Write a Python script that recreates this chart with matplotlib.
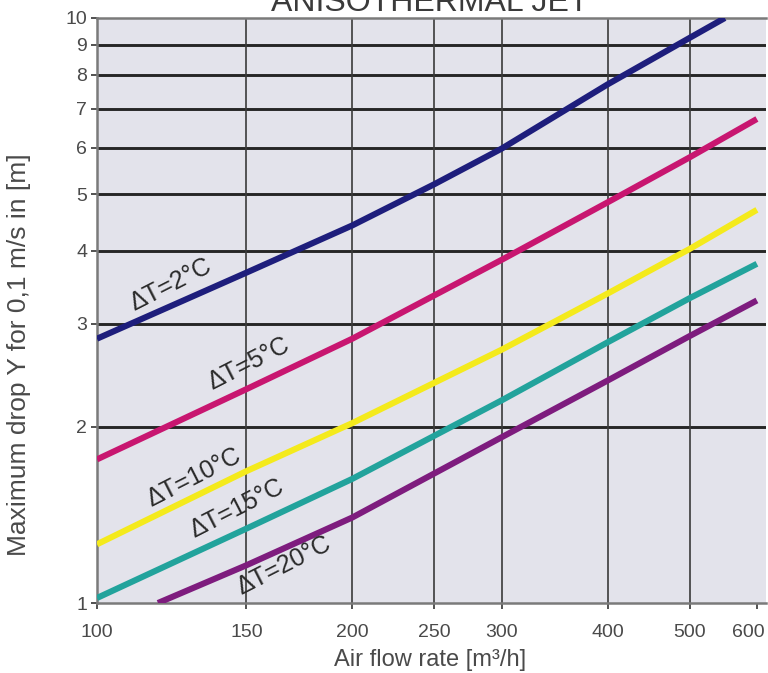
import matplotlib
matplotlib.use("Agg")
import matplotlib.pyplot as plt
from matplotlib.ticker import FixedLocator, FixedFormatter, NullLocator
from matplotlib.transforms import ScaledTranslation

plt.rcParams['font.family'] = ['Liberation Sans', 'DejaVu Sans']

# ---- data ----
title = "ANISOTHERMAL JET"
x_label = "Air flow rate [m³/h]"
y_label = "Maximum drop Y for 0,1 m/s in [m]"

x_ticks = [100, 150, 200, 250, 300, 400, 500, 600]
y_ticks = [1, 2, 3, 4, 5, 6, 7, 8, 9, 10]

dt2_x = [100, 150, 200, 250, 300, 400, 500, 550]
dt2_y = [2.83, 3.67, 4.42, 5.20, 5.98, 7.70, 9.25, 10.0]

dt5_x = [100, 150, 200, 300, 400, 500, 600]
dt5_y = [1.76, 2.32, 2.83, 3.86, 4.84, 5.78, 6.72]

dt10_x = [100, 150, 200, 250, 300, 400, 500, 600]
dt10_y = [1.26, 1.68, 2.03, 2.38, 2.71, 3.38, 4.03, 4.70]

dt15_x = [100, 150, 200, 300, 400, 500, 600]
dt15_y = [1.02, 1.34, 1.63, 2.22, 2.79, 3.32, 3.80]

dt20_x = [118, 150, 200, 300, 400, 500, 600]
dt20_y = [1.00, 1.16, 1.40, 1.92, 2.40, 2.86, 3.29]

labels = ["ΔT=2°C", "ΔT=5°C", "ΔT=10°C", "ΔT=15°C", "ΔT=20°C"]
colors = ["#1e1e7c", "#c81670", "#f4ea1c", "#22a39c", "#7e1c7e"]

series = [(dt2_x, dt2_y), (dt5_x, dt5_y), (dt10_x, dt10_y),
          (dt15_x, dt15_y), (dt20_x, dt20_y)]
label_pos = [(122.0, 3.50), (150.7, 2.57), (130.0, 1.64), (146.0, 1.45), (166.0, 1.16)]

# ---- figure ----
fig = plt.figure(figsize=(7.68, 6.73), dpi=100)
ax = fig.add_axes([97/768, 1 - 603/673, (766 - 97)/768, (603 - 18)/673])
ax.set_facecolor("#e3e3eb")
ax.set_xscale("log")
ax.set_yscale("log")
ax.set_xlim(100, 615)
ax.set_ylim(1, 10)

# grid
for yv in y_ticks[1:-1]:
    ax.axhline(yv, color="#262626", lw=2.1, zorder=1)
for xv in x_ticks[1:-1]:
    ax.axvline(xv, color="#3a3a3a", lw=1.2, zorder=1)

for (xs, ys), c in zip(series, colors):
    ax.plot(xs, ys, color=c, lw=4.4, solid_capstyle="butt",
            solid_joinstyle="round", zorder=3)

for (lx, ly), t in zip(label_pos, labels):
    ax.text(lx, ly, t, fontsize=18, color="#2a2a2a", rotation=27,
            rotation_mode="anchor", ha="center", va="center", zorder=4)

ax.xaxis.set_major_locator(FixedLocator(x_ticks))
ax.xaxis.set_major_formatter(FixedFormatter([str(v) for v in x_ticks]))
ax.xaxis.set_minor_locator(NullLocator())
ax.yaxis.set_major_locator(FixedLocator(y_ticks))
ax.yaxis.set_major_formatter(FixedFormatter([str(v) for v in y_ticks]))
ax.yaxis.set_minor_locator(NullLocator())

ax.tick_params(axis="both", which="major", labelsize=14, labelcolor="#4a4a4a",
               color="#333333", length=4, width=1.2)
ax.tick_params(axis="y", pad=3)
ax.tick_params(axis="x", pad=11)

ax.spines["right"].set_visible(False)
for side in ["left", "bottom", "top"]:
    ax.spines[side].set_color("#7a7a7a")
    ax.spines[side].set_linewidth(1.8)

ax.set_xlabel(x_label, fontsize=17, color="#4a4a4a", labelpad=0)
ax.xaxis.set_label_coords(0.498, -0.078, transform=ax.transAxes)
ax.set_ylabel(y_label, fontsize=19, color="#4a4a4a")
ax.yaxis.set_label_coords(-0.098, 0.424, transform=ax.transAxes)

fig.text(430/768, 1 - 11/673, title, fontsize=23, color="#3a3a3a",
         ha="center", va="baseline")

fig.canvas.draw()
xt = ax.get_xticklabels()
if xt:
    last = xt[-1]
    last.set_transform(last.get_transform() +
                       ScaledTranslation(-9/100, 0, fig.dpi_scale_trans))

fig.savefig("out.png", dpi=100, facecolor="white")
